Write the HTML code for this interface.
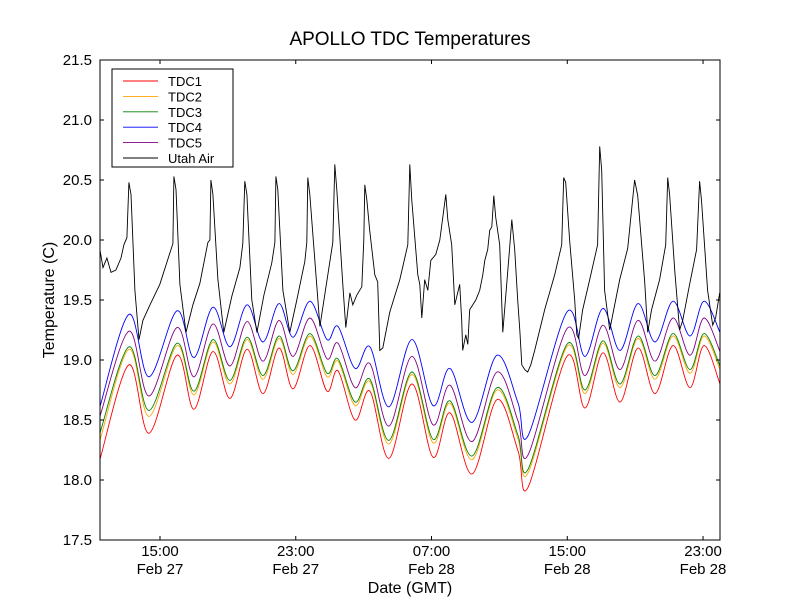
<!DOCTYPE html>
<html><head><meta charset="utf-8"><style>
body{margin:0;background:#fff;}
svg text{font-family:"Liberation Sans","DejaVu Sans",sans-serif;}
</style></head><body>
<svg id="chart" width="800" height="600" xmlns="http://www.w3.org/2000/svg">
<rect width="800" height="600" fill="#fff"/>
<text x="410" y="45" font-size="19" text-anchor="middle">APOLLO TDC Temperatures</text>
<g id="series"></g>
<rect x="100" y="60" width="620" height="480" fill="none" stroke="#000" stroke-width="1"/>
<g id="axes"></g>
<text transform="translate(54,300) rotate(-90)" font-size="16" text-anchor="middle">Temperature (C)</text>
<text x="410" y="593" font-size="16" text-anchor="middle">Date (GMT)</text>
<g id="legend"></g>
</svg>
<script>
const tdcT=[11.46,13.17,14.35,16.0,17.0,18.12,19.12,20.13,21.07,22.01,22.84,23.84,24.84,25.49,26.49,27.37,28.49,29.85,31.09,32.09,33.39,34.86,36.1,36.69,38.98,40.04,41.1,42.11,43.17,44.17,45.23,46.23,47.06,48.0];
const tdc1=[18.17,18.96,18.39,19.04,18.59,19.07,18.68,19.09,18.72,19.10,18.76,19.12,18.74,18.91,18.50,18.74,18.18,18.80,18.19,18.56,18.05,18.67,18.24,17.94,19.03,18.60,19.06,18.65,19.10,18.72,19.12,18.77,19.12,18.80];
const tdc2=[18.33,19.09,18.53,19.12,18.71,19.15,18.80,19.17,18.84,19.18,18.88,19.20,18.86,18.99,18.62,18.82,18.30,18.88,18.31,18.64,18.17,18.75,18.34,18.06,19.11,18.72,19.14,18.77,19.18,18.84,19.20,18.89,19.20,18.92];
const tdc3=[18.39,19.11,18.58,19.14,18.74,19.17,18.83,19.19,18.87,19.20,18.91,19.22,18.89,19.01,18.65,18.84,18.33,18.90,18.34,18.66,18.20,18.77,18.37,18.09,19.13,18.75,19.16,18.80,19.20,18.87,19.22,18.92,19.22,18.95];
const tdc4=[18.61,19.38,18.86,19.41,19.02,19.44,19.11,19.46,19.15,19.47,19.19,19.49,19.17,19.28,18.93,19.11,18.61,19.17,18.62,18.93,18.48,19.04,18.64,18.37,19.40,19.03,19.43,19.08,19.47,19.15,19.49,19.20,19.49,19.23];
const tdc5=[18.53,19.24,18.70,19.27,18.86,19.30,18.95,19.32,18.99,19.33,19.03,19.35,19.01,19.14,18.77,18.97,18.45,19.03,18.46,18.79,18.32,18.90,18.49,18.21,19.26,18.87,19.29,18.92,19.33,18.99,19.35,19.04,19.35,19.07];
const airT=[11.46,11.64,11.87,12.11,12.40,12.70,12.87,13.05,13.17,13.29,13.52,13.76,13.99,14.41,14.99,15.58,15.76,15.82,15.94,16.17,16.53,16.94,17.35,17.82,17.94,18.00,18.12,18.41,18.76,19.23,19.71,19.88,20.00,20.12,20.41,20.71,21.12,21.59,21.77,21.83,21.94,22.24,22.65,23.06,23.53,23.65,23.71,23.83,24.42,25.18,25.30,25.42,25.77,25.95,26.19,26.36,26.60,26.89,27.01,27.07,27.19,27.36,27.66,27.83,27.95,28.13,28.54,29.13,29.60,29.72,29.84,30.19,30.31,30.43,30.60,30.78,30.96,31.25,31.49,31.84,31.96,32.19,32.37,32.66,32.78,32.84,33.02,33.14,33.25,33.43,33.61,33.84,34.02,34.14,34.31,34.43,34.55,34.67,34.78,35.02,35.20,35.61,35.73,35.90,36.08,36.20,36.32,36.49,36.67,36.85,37.08,37.67,38.26,38.67,38.79,38.91,39.14,39.44,39.56,39.67,39.91,40.32,40.79,40.91,41.03,41.20,41.50,41.68,42.09,42.56,42.97,43.15,43.56,43.74,43.97,44.44,44.80,44.92,45.03,45.33,45.62,45.80,46.21,46.62,46.80,46.91,47.27,47.57,47.74,47.98];
const airV=[19.92,19.77,19.85,19.73,19.75,19.85,19.96,20.02,20.48,20.38,19.58,19.17,19.33,19.46,19.63,19.89,19.97,20.53,20.42,19.63,19.23,19.46,19.64,19.98,20.0,20.5,20.38,19.67,19.23,19.53,19.77,19.97,20.49,20.38,19.5,19.23,19.54,19.81,19.98,20.53,20.42,19.58,19.23,19.5,19.82,19.98,20.52,20.38,19.28,19.98,20.63,20.42,19.63,19.27,19.56,19.46,19.54,19.61,20.0,20.46,20.33,20.08,19.71,19.65,19.08,19.1,19.4,19.67,19.96,20.63,20.33,19.71,19.63,19.35,19.67,19.58,19.83,19.88,20.0,20.38,20.17,19.96,19.46,19.63,19.33,19.08,19.21,19.13,19.42,19.46,19.5,19.58,19.71,19.83,19.92,20.08,20.11,20.37,20.19,19.96,19.23,19.94,20.17,19.92,19.5,19.25,18.96,18.92,18.9,18.96,19.08,19.42,19.71,19.96,20.52,20.48,20.0,19.5,19.21,19.18,19.42,19.67,19.96,20.78,20.58,19.58,19.25,19.38,19.67,19.93,20.5,20.37,19.65,19.23,19.42,19.67,19.96,20.52,20.38,19.75,19.25,19.33,19.63,19.92,20.49,20.33,19.58,19.29,19.35,19.56];
const yTicks=[17.5,18.0,18.5,19.0,19.5,20.0,20.5,21.0,21.5];
const xTicks=[15,23,31,39,47];
const xTickTime=["15:00","23:00","07:00","15:00","23:00"];
const xTickDate=["Feb 27","Feb 27","Feb 28","Feb 28","Feb 28"];
const seriesNames=["TDC1","TDC2","TDC3","TDC4","TDC5","Utah Air"];
const seriesColors=["#ff0000","#ffa500","#008000","#0000ff","#800080","#000000"];

const X0=100,X1=720,Y0=60,Y1=540,T0=11.4643,T1=48.0;
function xs(t){return X0+(t-T0)*(X1-X0)/(T1-T0);}
function ys(v){return Y1-(v-17.5)*(Y1-Y0)/4.0;}
const NS="http://www.w3.org/2000/svg";
function mk(tag,attrs,parent){const e=document.createElementNS(NS,tag);for(const k in attrs)e.setAttribute(k,attrs[k]);parent.appendChild(e);return e;}
function smoothPath(T,V){
  const p=T.map((t,i)=>[xs(t),ys(V[i])]);
  let d="M"+p[0][0].toFixed(1)+","+p[0][1].toFixed(1);
  for(let i=0;i<p.length-1;i++){
    const a=p[i-1]||p[i],b=p[i],c=p[i+1],e=p[i+2]||c;
    const c1=[b[0]+(c[0]-a[0])/6,b[1]+(c[1]-a[1])/6],c2=[c[0]-(e[0]-b[0])/6,c[1]-(e[1]-b[1])/6];
    d+="C"+c1.map(n=>n.toFixed(1))+" "+c2.map(n=>n.toFixed(1))+" "+c[0].toFixed(1)+","+c[1].toFixed(1);
  }
  return d;
}
const sg=document.getElementById("series");
const clip=mk("clipPath",{id:"pc"},sg);mk("rect",{x:X0,y:Y0,width:X1-X0,height:Y1-Y0},clip);
const tdcs=[tdc1,tdc2,tdc3,tdc4,tdc5];
tdcs.forEach((V,i)=>{
  const el=mk("path",{d:smoothPath(tdcT,V),fill:"none",stroke:seriesColors[i],"stroke-width":"0.9","clip-path":"url(#pc)"},sg);
  
  
});
{
  const d=airT.map((t,i)=>(i?"L":"M")+xs(t).toFixed(1)+","+ys(airV[i]).toFixed(1)).join("");
  const el=mk("path",{d:d,fill:"none",stroke:"#000","stroke-width":"0.9","clip-path":"url(#pc)"},sg);
  
  
}
const ax=document.getElementById("axes");
yTicks.forEach(v=>{
  const y=ys(v);
  mk("line",{x1:X0,y1:y,x2:X0+4,y2:y,stroke:"#000"},ax);
  mk("line",{x1:X1,y1:y,x2:X1-4,y2:y,stroke:"#000"},ax);
  const t=mk("text",{x:X0-8,y:y+5,"font-size":"15","text-anchor":"end"},ax);
  t.textContent=v.toFixed(1);
  
  
});
xTicks.forEach((h,i)=>{
  const x=xs(h);
  mk("line",{x1:x,y1:Y1,x2:x,y2:Y1-4,stroke:"#000"},ax);
  mk("line",{x1:x,y1:Y0,x2:x,y2:Y0+4,stroke:"#000"},ax);
  const t=mk("text",{x:x,y:556,"font-size":"15","text-anchor":"middle"},ax);
  t.textContent=xTickTime[i];
  
  
  const t2=mk("text",{x:x,y:574,"font-size":"15","text-anchor":"middle"},ax);
  t2.textContent=xTickDate[i];
  
  
});
const lg=document.getElementById("legend");
mk("rect",{x:112,y:69,width:121,height:98,fill:"#fff",stroke:"#000"},lg);
seriesNames.forEach((n,i)=>{
  const y=81+i*15.4;
  const ln=mk("line",{x1:123,y1:y,x2:158,y2:y,stroke:seriesColors[i],"stroke-width":"0.9"},lg);
  
  
  const t=mk("text",{x:168,y:y+5,"font-size":"13"},lg);
  t.textContent=n;
  
  
});
</script>
</body></html>
